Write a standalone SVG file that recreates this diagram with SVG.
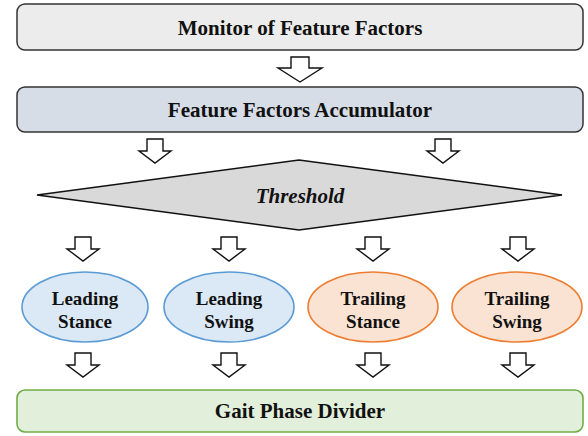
<svg xmlns="http://www.w3.org/2000/svg" xmlns:xlink="http://www.w3.org/1999/xlink" width="588" height="436" viewBox="0 0 588 436">
<style>
.t{font-family:"Liberation Serif","Times New Roman",serif;font-weight:bold;fill:#111;text-anchor:middle}
.box{stroke:#333;stroke-width:1.5}
.arr{fill:#fff;stroke:#111;stroke-width:1.4;stroke-linejoin:miter}
.blue{fill:#dbe8f5;stroke:#5b9bd5;stroke-width:1.6}
.orange{fill:#fbe3d3;stroke:#ed7d31;stroke-width:1.6}
</style>
<defs>
<path id="bigArrow" class="arr" d="M-9,0 H9 V11 H22 L0,25 L-22,11 H-9 Z"/>
<path id="smallArrow" class="arr" d="M-8,0 H8 V12 H16 L0,24 L-16,12 H-8 Z"/>
</defs>
<g id="monitor">
<rect class="box" x="17" y="4" width="566" height="46" rx="8" fill="#ececec"/>
<text class="t" x="300" y="35" font-size="21">Monitor of Feature Factors</text>
</g>
<g id="accumulator">
<rect class="box" x="17" y="87" width="566" height="45" rx="8" fill="#d7dde6"/>
<text class="t" x="300" y="117" font-size="21">Feature Factors Accumulator</text>
</g>
<g id="threshold">
<polygon points="37,195 299,160 562,195 299,230" fill="#d9d9d9" stroke="#111" stroke-width="1.5"/>
<text class="t" x="300" y="203" font-size="21" font-style="italic">Threshold</text>
</g>
<g id="leading-stance">
<ellipse class="blue" cx="85" cy="307" rx="63" ry="35"/>
<text class="t" x="85" y="305" font-size="19">Leading</text>
<text class="t" x="85" y="328" font-size="19">Stance</text>
</g>
<g id="leading-swing">
<ellipse class="blue" cx="229" cy="307" rx="65" ry="35"/>
<text class="t" x="229" y="305" font-size="19">Leading</text>
<text class="t" x="229" y="328" font-size="19">Swing</text>
</g>
<g id="trailing-stance">
<ellipse class="orange" cx="373" cy="307" rx="65" ry="35"/>
<text class="t" x="373" y="305" font-size="19">Trailing</text>
<text class="t" x="373" y="328" font-size="19">Stance</text>
</g>
<g id="trailing-swing">
<ellipse class="orange" cx="517" cy="307" rx="65" ry="35"/>
<text class="t" x="517" y="305" font-size="19">Trailing</text>
<text class="t" x="517" y="328" font-size="19">Swing</text>
</g>
<g id="divider">
<rect x="17" y="390" width="566" height="42" rx="8" fill="#e2efda" stroke="#70ad47" stroke-width="1.6"/>
<text class="t" x="300" y="418" font-size="21">Gait Phase Divider</text>
</g>
<g id="connectors">
<use xlink:href="#bigArrow" x="300" y="57"/>
<use xlink:href="#smallArrow" x="155" y="139"/>
<use xlink:href="#smallArrow" x="443" y="139"/>
<use xlink:href="#smallArrow" x="83" y="237"/>
<use xlink:href="#smallArrow" x="229" y="237"/>
<use xlink:href="#smallArrow" x="373" y="237"/>
<use xlink:href="#smallArrow" x="518" y="237"/>
<use xlink:href="#smallArrow" x="83" y="353"/>
<use xlink:href="#smallArrow" x="229" y="353"/>
<use xlink:href="#smallArrow" x="373" y="353"/>
<use xlink:href="#smallArrow" x="518" y="353"/>
</g>
</svg>
